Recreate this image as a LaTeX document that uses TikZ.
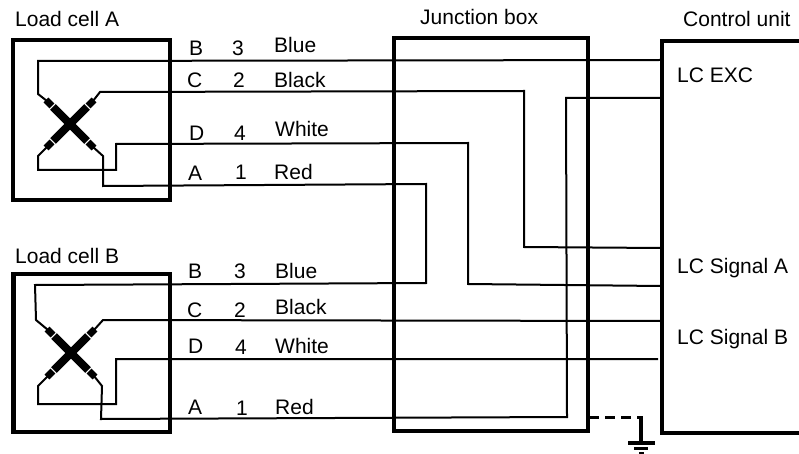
\documentclass[tikz,border=0pt]{standalone}
\usepackage{fontspec}
\setmainfont{Liberation Sans}
\newcommand*{\gaugecross}[1]{%
	\draw[line width=8pt] ($(#1)+(-17,-17)$) -- ($(#1)+(17,17)$);
	\draw[line width=8pt] ($(#1)+(-17,17)$) -- ($(#1)+(17,-17)$);
	\draw[line width=7pt] ($(#1)+(-18,-18)$) -- ($(#1)+(-24,-24)$);
	\draw[line width=7pt] ($(#1)+(18,-18)$) -- ($(#1)+(24,-24)$);
	\draw[line width=7pt] ($(#1)+(-18,18)$) -- ($(#1)+(-24,24)$);
	\draw[line width=7pt] ($(#1)+(18,18)$) -- ($(#1)+(24,24)$);
}
\usetikzlibrary{calc}
\tikzset{
	wire/.style={line width=2pt, line join=miter},
	unitbox/.style={line width=4.6pt, line join=miter},
	txt/.style={anchor=base west, inner sep=0pt, font=\fontsize{21}{24}\selectfont},
}
\begin{document}
\begin{tikzpicture}[x=1pt, y=-1pt]
	\useasboundingbox (0,0) rectangle (799,454);
	% boxes
	\coordinate (A1) at (13,40);
	\coordinate (A2) at (170,200);
	\coordinate (L1) at (13.5,274);
	\coordinate (L2) at (170,432);
	\coordinate (J1) at (394,38);
	\coordinate (J2) at (588,431);
	\coordinate (U1) at (800,41);
	\coordinate (U2) at (662,41);
	\coordinate (U3) at (662,433);
	\coordinate (U4) at (800,433);
	\draw[unitbox] (A1) rectangle (A2);
	\draw[unitbox] (L1) rectangle (L2);
	\draw[unitbox] (J1) rectangle (J2);
	\draw[unitbox] (U1) -- (U2) -- (U3) -- (U4);

	% load cell A
	\coordinate (MA) at (70,124);
	\gaugecross{MA}
	\coordinate (AB1) at (47,101);
	\coordinate (AB2) at (38,94);
	\coordinate (AB3) at (38,61);
	\coordinate (AB4) at (661,60);
	\draw[wire] (AB1) -- (AB2) -- (AB3) -- (AB4);
	\coordinate (AC1) at (93,101);
	\coordinate (AC2) at (100,92);
	\coordinate (AC3) at (524,91);
	\coordinate (AC4) at (524,247);
	\coordinate (AC5) at (661,248);
	\draw[wire] (AC1) -- (AC2) -- (AC3) -- (AC4) -- (AC5);
	\coordinate (AD1) at (47,147);
	\coordinate (AD2) at (38,156);
	\coordinate (AD3) at (38,170);
	\coordinate (AD4) at (116,170);
	\coordinate (AD5) at (116,144);
	\coordinate (AD6) at (468,143);
	\coordinate (AD7) at (468,284);
	\coordinate (AD8) at (661,286);
	\draw[wire] (AD1) -- (AD2) -- (AD3) -- (AD4) -- (AD5) -- (AD6) -- (AD7) -- (AD8);
	\coordinate (AA1) at (93,147);
	\coordinate (AA2) at (103,156);
	\coordinate (AA3) at (103,186);
	\coordinate (AA4) at (426,184);
	\coordinate (AA5) at (426,283);
	\coordinate (AA6) at (35,285);
	\coordinate (AA7) at (36,320);
	\coordinate (AA8) at (48,330);
	\draw[wire] (AA1) -- (AA2) -- (AA3) -- (AA4) -- (AA5) -- (AA6) -- (AA7) -- (AA8);

	% load cell B
	\coordinate (MB) at (71,353);
	\gaugecross{MB}
	\coordinate (BC1) at (94,330);
	\coordinate (BC2) at (103,320);
	\coordinate (BC3) at (661,321);
	\draw[wire] (BC1) -- (BC2) -- (BC3);
	\coordinate (BD1) at (48,376);
	\coordinate (BD2) at (38,386);
	\coordinate (BD3) at (38,404);
	\coordinate (BD4) at (116,404);
	\coordinate (BD5) at (116,359);
	\coordinate (BD6) at (658,359);
	\draw[wire] (BD1) -- (BD2) -- (BD3) -- (BD4) -- (BD5) -- (BD6);
	\coordinate (BA1) at (94,376);
	\coordinate (BA2) at (102,386);
	\coordinate (BA3) at (101,419);
	\coordinate (BA4) at (567,417);
	\coordinate (BA5) at (566,98);
	\coordinate (BA6) at (661,98);
	\draw[wire] (BA1) -- (BA2) -- (BA3) -- (BA4) -- (BA5) -- (BA6);

	% ground
	\coordinate (G0) at (589,417);
	\coordinate (G1) at (643,417);
	\coordinate (G2) at (641,443);
	\coordinate (G9) at (641,417);
	\draw[line width=3pt, dash pattern=on 10pt off 6pt] (G0) -- (G1);
	\draw[line width=3.4pt] (G9) -- (G2);
	\coordinate (G3) at (628,443);
	\coordinate (G4) at (655,443);
	\coordinate (G5) at (634,448.5);
	\coordinate (G6) at (648,448.5);
	\coordinate (G7) at (639,453);
	\coordinate (G8) at (644,453);
	\draw[line width=3.4pt] (G3) -- (G4);
	\draw[line width=3.4pt] (G5) -- (G6);
	\draw[line width=2.5pt] (G7) -- (G8);

	% titles
	\node[txt] (tA) at (15,27) {Load cell A};
	\node[txt] (tB) at (15,263) {Load cell B};
	\node[txt] (tJ) at (420,25) {Junction box};
	\node[txt] (tU) at (683,27) {Control unit};
	\node[txt] (tE) at (677,83) {LC EXC};
	\node[txt] (tS) at (677,273) {LC Signal A};
	\node[txt] (tT) at (677,344) {LC Signal B};

	% labels, load cell A
	\node[txt] (a1) at (189,56) {B};
	\node[txt] (a2) at (232,56) {3};
	\node[txt] (a3) at (274,53) {Blue};
	\node[txt] (a4) at (187,88) {C};
	\node[txt] (a5) at (233,88) {2};
	\node[txt] (a6) at (274,88) {Black};
	\node[txt] (a7) at (189,141) {D};
	\node[txt] (a8) at (234,141) {4};
	\node[txt] (a9) at (275,137) {White};
	\node[txt] (a10) at (188,181) {A};
	\node[txt] (a11) at (235,180) {1};
	\node[txt] (a12) at (274,180) {Red};

	% labels, load cell B
	\node[txt] (b1) at (188,278) {B};
	\node[txt] (b2) at (234,278) {3};
	\node[txt] (b3) at (275,278) {Blue};
	\node[txt] (b4) at (187,317) {C};
	\node[txt] (b5) at (234,317) {2};
	\node[txt] (b6) at (275,314) {Black};
	\node[txt] (b7) at (188,353) {D};
	\node[txt] (b8) at (235,354) {4};
	\node[txt] (b9) at (275,353) {White};
	\node[txt] (b10) at (188,414) {A};
	\node[txt] (b11) at (236,415) {1};
	\node[txt] (b12) at (275,414) {Red};
\end{tikzpicture}
\end{document}
